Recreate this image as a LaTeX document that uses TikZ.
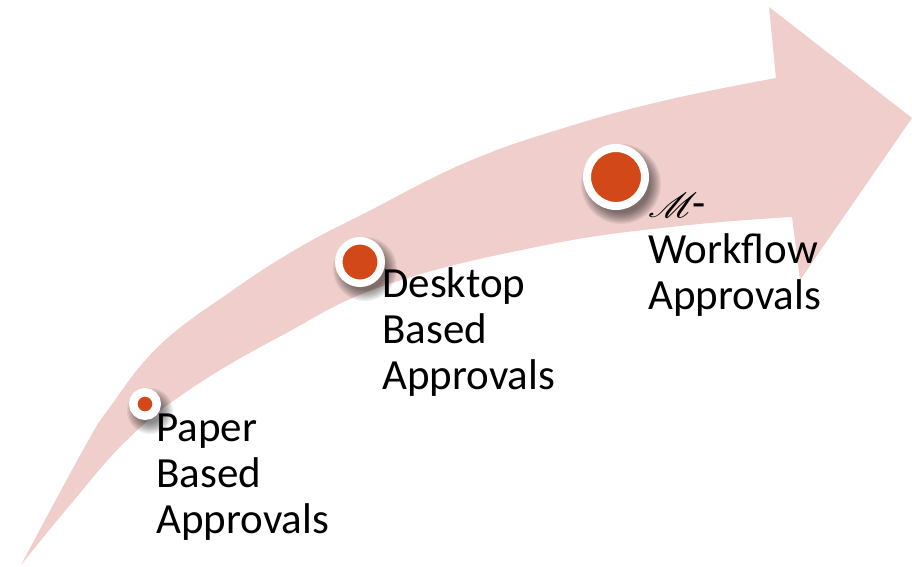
\documentclass[tikz,border=0pt]{standalone}
\usepackage{fontspec}
\setmainfont{Carlito}
\usepackage{mathrsfs}
\definecolor{arrowpink}{RGB}{239,206,203}
\definecolor{dotorange}{RGB}{210,72,24}
\tikzset{
  dotmark/.style={circle, fill=dotorange, draw=white, inner sep=0pt},
  lbl/.style={align=left, inner sep=0pt, text=black, font=\fontsize{43}{46}\selectfont},
}
\newcommand\softshadow[3]{% x, y, radius
  \foreach \k in {0,...,9}{
    \fill[black, opacity=0.06] (#1+5,#2+7) circle ({#3+7-\k*1.2});
  }
}
\begin{document}
\begin{tikzpicture}[x=1pt, y=-1pt]
\useasboundingbox (0,0) rectangle (912,566);
% arrow
\fill[arrowpink] plot[smooth, tension=0.7] coordinates {(21,565) (83,450) (110,407) (160,345) (233,290) (300,247) (367,212) (467,162) (567,127) (667,100) (776,78)}
  -- (769,7) -- (912,118) -- (800,280) -- (792,217)
  -- plot[smooth, tension=0.7] coordinates {(792,217) (680,226) (546,245) (386,285) (279,337) (189,390) (127,440) (70,505) (21,565)} -- cycle;
% shadows
\softshadow{145}{404}{16}
\softshadow{360}{262}{25}
\softshadow{616}{177}{33}
% markers
\node[dotmark, line width=8.5pt, minimum size=23.5pt] (d1) at (145,404) {};
\node[dotmark, line width=7.5pt, minimum size=42.5pt] (d2) at (360,262) {};
\node[dotmark, line width=8pt, minimum size=58pt] (d3) at (616,177) {};
% labels (base anchor = baseline of last line)
\node[lbl, anchor=base west] (t1) at (156,533) {Paper\\Based\\Approvals};
\node[lbl, anchor=base west] (t2) at (382,389) {Desktop\\Based\\Approvals};
\node[lbl, anchor=base west] (t3) at (648,309) {\scalebox{1.6}[1.4]{$\mathscr{M}$}\kern-5pt-\\Workflow\\Approvals};
\end{tikzpicture}
\end{document}
